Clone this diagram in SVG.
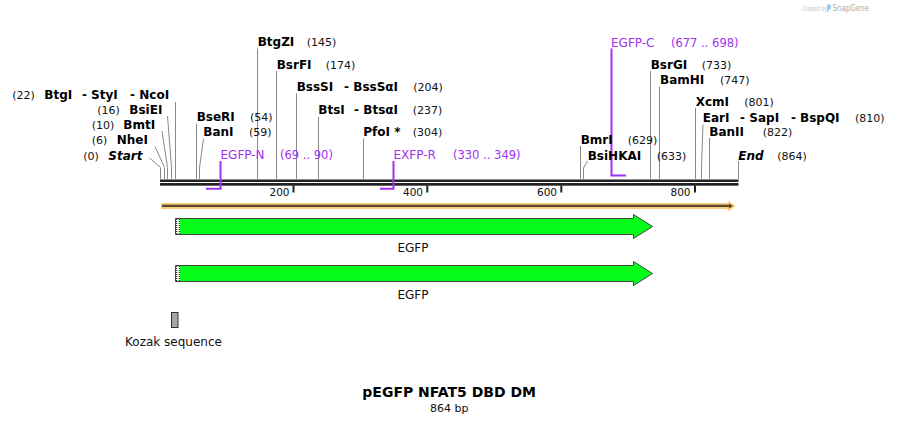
<svg xmlns="http://www.w3.org/2000/svg" width="899" height="423" viewBox="0 0 899 423">
<style>
text{font-family:"DejaVu Sans",Verdana,sans-serif}
.e{font-size:12px;font-weight:bold;fill:#000}
.i{font-size:12px;font-weight:bold;font-style:italic;fill:#000}
.n{font-size:11px;fill:#111}
.p{font-size:12px;fill:#A030F0}
.pn{font-size:11.5px;fill:#A030F0}
.ax{font-size:10.5px;fill:#111;text-anchor:end}
.f{font-size:12px;fill:#111;text-anchor:middle}
.ln{stroke:#8a8a8a;stroke-width:1;fill:none}
.pl{stroke:#A030F0;stroke-width:2;fill:none}
.tk{stroke:#222;stroke-width:2}
.gfp{fill:#05FF1A;stroke:#444;stroke-width:1}
</style>

<g id="watermark">
<text transform="translate(802.5,10.5) scale(0.6,1)" font-size="7.4" fill="#c4c4c4" font-family="Liberation Sans, sans-serif">Created by</text>
<path d="M827,4.5 h2.5 a1.5,1.5 0 0 1 1.5,1.5 v2 a1.5,1.5 0 0 1 -1.5,1.5 h-1 v2.5 h-1.5 z" fill="#8fd0f4"/>
<text transform="translate(832.5,10.8) scale(0.76,1)" font-size="9.3" fill="#aaaaaa" font-family="Liberation Sans, sans-serif">SnapGene</text>
</g>

<g id="backbone">
<rect x="160" y="179.5" width="578.5" height="2.5" fill="#222"/>
<rect x="160" y="183" width="578.5" height="2.7" fill="#222"/>
<line class="tk" x1="293.5" y1="185.5" x2="293.5" y2="192.5"/>
<line class="tk" x1="427.3" y1="185.5" x2="427.3" y2="192.5"/>
<line class="tk" x1="561.3" y1="185.5" x2="561.3" y2="192.5"/>
<line class="tk" x1="695" y1="185.5" x2="695" y2="192.5"/>
<text class="ax" x="289.5" y="195.5">200</text>
<text class="ax" x="423" y="195.5">400</text>
<text class="ax" x="557" y="195.5">600</text>
<text class="ax" x="690.5" y="195.5">800</text>
</g>

<g id="orf">
<path d="M161,203 H728.3 V200.8 L735.5,206 L728.3,211.4 V209 H161 Z" fill="#F8CB78"/>
<path d="M162,204.8 H729 V203.6 L733,206 L729,208.4 V207.1 H162 Z" fill="#5A4830"/>
</g>

<g id="connectors">
<polyline class="ln" points="149.5,158 160.5,167.5 160.5,179"/>
<polyline class="ln" points="155,146.5 164.5,167.5 164.5,179"/>
<polyline class="ln" points="162,131 167.5,167.5 167.5,179"/>
<polyline class="ln" points="167.5,116 171.5,167.5 171.5,179"/>
<line class="ln" x1="175.5" y1="102" x2="175.5" y2="179"/>
<line class="ln" x1="196.5" y1="123.5" x2="196.5" y2="179"/>
<polyline class="ln" points="203.5,138.5 199.5,168 199.5,179"/>
<line class="ln" x1="257.5" y1="48.5" x2="257.5" y2="179"/>
<line class="ln" x1="276.5" y1="71" x2="276.5" y2="179"/>
<line class="ln" x1="296.5" y1="93.5" x2="296.5" y2="179"/>
<line class="ln" x1="318.5" y1="117" x2="318.5" y2="179"/>
<line class="ln" x1="363.5" y1="138.5" x2="363.5" y2="179"/>
<line class="ln" x1="580.5" y1="146" x2="580.5" y2="179"/>
<polyline class="ln" points="587.5,161 583.5,168 583.5,179"/>
<line class="ln" x1="650.5" y1="71" x2="650.5" y2="179"/>
<line class="ln" x1="659.5" y1="86.5" x2="659.5" y2="179"/>
<line class="ln" x1="695.5" y1="108" x2="695.5" y2="179"/>
<polyline class="ln" points="703,124.5 701.5,167 701.5,179"/>
<line class="ln" x1="709.5" y1="138" x2="709.5" y2="179"/>
<line class="ln" x1="738.5" y1="161" x2="738.5" y2="179"/>
<polyline class="pl" points="206,188.8 220.5,188.8 220.5,161"/>
<polyline class="pl" points="380,188.8 393.5,188.8 393.5,161"/>
<polyline class="pl" points="626,175.5 611.5,175.5 611.5,48.5"/>
</g>

<g id="site-start"><text class="n" x="83.3" y="159.5">(0)</text><text class="i" x="108.3" y="159.5">Start</text></g>
<g id="site-nhei"><text class="n" x="91.7" y="144.4">(6)</text><text class="e" x="116.7" y="144.4">NheI</text></g>
<g id="site-bmti"><text class="n" x="91.7" y="129.4">(10)</text><text class="e" x="123.3" y="129.4">BmtI</text></g>
<g id="site-bsiei"><text class="n" x="97.3" y="114.4">(16)</text><text class="e" x="129.3" y="114.4">BsiEI</text></g>
<g id="site-ncoi"><text class="n" x="12.3" y="99.4">(22)</text><text class="e" x="44.3" y="99.4">BtgI</text><text class="e" x="82" y="99.4">-</text><text class="e" x="91" y="99.4">StyI</text><text class="e" x="130" y="99.4">-</text><text class="e" x="139.3" y="99.4">NcoI</text></g>
<g id="site-bseri"><text class="e" x="196.7" y="121">BseRI</text><text class="n" x="250" y="121">(54)</text></g>
<g id="site-bani"><text class="e" x="203.3" y="136">BanI</text><text class="n" x="249" y="136">(59)</text></g>
<g id="site-btgzi"><text class="e" x="257.7" y="45.7">BtgZI</text><text class="n" x="306.7" y="45.7">(145)</text></g>
<g id="site-bsrfi"><text class="e" x="276.7" y="68.7">BsrFI</text><text class="n" x="325.7" y="68.7">(174)</text></g>
<g id="site-bsssi"><text class="e" x="296.7" y="91.2">BssSI</text><text class="e" x="344" y="91.2">-</text><text class="e" x="353.3" y="91.2">BssSαI</text><text class="n" x="413.3" y="91.2">(204)</text></g>
<g id="site-btsi"><text class="e" x="318.3" y="114.4">BtsI</text><text class="e" x="354" y="114.4">-</text><text class="e" x="363.3" y="114.4">BtsαI</text><text class="n" x="412.7" y="114.4">(237)</text></g>
<g id="site-pfoi"><text class="e" x="363.3" y="136">PfoI *</text><text class="n" x="412.7" y="136">(304)</text></g>
<g id="site-bmri"><text class="e" x="580.7" y="144">BmrI</text><text class="n" x="627.7" y="144">(629)</text></g>
<g id="site-bsihkai"><text class="e" x="587.7" y="159.5">BsiHKAI</text><text class="n" x="656.7" y="159.5">(633)</text></g>
<g id="site-bsrgi"><text class="e" x="650.7" y="68.7">BsrGI</text><text class="n" x="701.7" y="68.7">(733)</text></g>
<g id="site-bamhi"><text class="e" x="660" y="84.3">BamHI</text><text class="n" x="720" y="84.3">(747)</text></g>
<g id="site-xcmi"><text class="e" x="695.7" y="106">XcmI</text><text class="n" x="744.3" y="106">(801)</text></g>
<g id="site-eari"><text class="e" x="702.7" y="121.7">EarI</text><text class="e" x="740" y="121.7">-</text><text class="e" x="749.3" y="121.7">SapI</text><text class="e" x="791" y="121.7">-</text><text class="e" x="800" y="121.7">BspQI</text><text class="n" x="855" y="121.7">(810)</text></g>
<g id="site-banii"><text class="e" x="709.3" y="136">BanII</text><text class="n" x="762.7" y="136">(822)</text></g>
<g id="site-end"><text class="i" x="738.3" y="159.5">End</text><text class="n" x="777.3" y="159.5">(864)</text></g>

<g id="primer-egfp-n"><text class="p" x="220.5" y="159.3">EGFP-N</text><text class="pn" x="280" y="159.3">(69 .. 90)</text></g>
<g id="primer-exfp-r"><text class="p" x="393.5" y="159.3">EXFP-R</text><text class="pn" x="453" y="159.3">(330 .. 349)</text></g>
<g id="primer-egfp-c"><text class="p" x="611" y="46.7">EGFP-C</text><text class="pn" x="671" y="46.7">(677 .. 698)</text></g>

<g id="feature-egfp-1">
<path class="gfp" d="M175.5,218.5 H633.5 V214.5 L652.5,226.5 L633.5,238.5 V234.5 H175.5 Z"/>
<rect x="176" y="219" width="4" height="15" fill="#fff"/>
<line x1="176.7" y1="219" x2="176.7" y2="234" stroke="#000" stroke-dasharray="1 1"/>
<line x1="179.3" y1="219" x2="179.3" y2="234" stroke="#000" stroke-dasharray="1 1"/>
<text class="f" x="413" y="251.5">EGFP</text>
</g>
<g id="feature-egfp-2">
<path class="gfp" d="M175.5,265.5 H633.5 V261.5 L652.5,273.5 L633.5,285.5 V281.5 H175.5 Z"/>
<rect x="176" y="266" width="4" height="15" fill="#fff"/>
<line x1="176.7" y1="266" x2="176.7" y2="281" stroke="#000" stroke-dasharray="1 1"/>
<line x1="179.3" y1="266" x2="179.3" y2="281" stroke="#000" stroke-dasharray="1 1"/>
<text class="f" x="413" y="298.5">EGFP</text>
</g>
<g id="feature-kozak">
<rect x="171.5" y="312.5" width="6.5" height="15" fill="#A6A6B0" stroke="#333" stroke-width="1"/>
<text class="f" x="173.5" y="345.5">Kozak sequence</text>
</g>

<g id="title">
<text x="449.2" y="397" font-size="14" font-weight="bold" text-anchor="middle" fill="#000">pEGFP NFAT5 DBD DM</text>
<text x="449.2" y="411.5" font-size="11" text-anchor="middle" fill="#111">864 bp</text>
</g>
</svg>
